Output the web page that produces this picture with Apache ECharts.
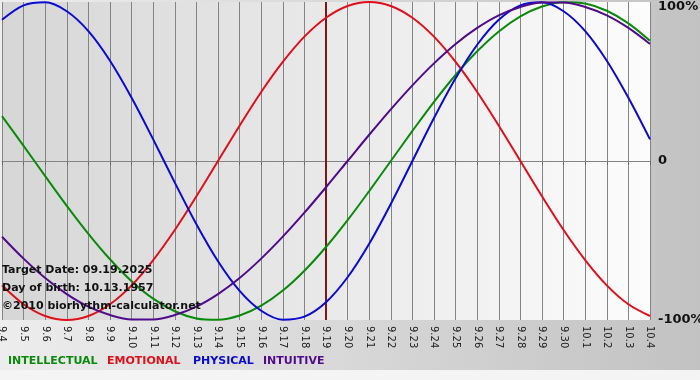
<!DOCTYPE html>
<html>
<head>
<meta charset="utf-8">
<script src="https://cdn.jsdelivr.net/npm/echarts@6/dist/echarts.min.js"></script>
<style>
html,body{margin:0;padding:0;}
#chart{width:700px;height:380px;}
</style>
</head>
<body>
<div id="chart"></div>
<script>
var days = ['9.4','9.5','9.6','9.7','9.8','9.9','9.10','9.11','9.12','9.13','9.14','9.15','9.16','9.17','9.18','9.19','9.20','9.21','9.22','9.23','9.24','9.25','9.26','9.27','9.28','9.29','9.30','10.1','10.2','10.3','10.4'];
var intellectual = [28.2,9.5,-9.5,-28.2,-45.8,-61.8,-75.6,-86.6,-94.5,-99.0,-99.9,-97.2,-91.0,-81.5,-69.0,-54.1,-37.2,-18.9,0,18.9,37.2,54.1,69.0,81.5,91.0,97.2,99.9,99.0,94.5,86.6,75.6];
var emotional = [-78.2,-90.1,-97.5,-100,-97.5,-90.1,-78.2,-62.3,-43.4,-22.2,0,22.2,43.4,62.3,78.2,90.1,97.5,100,97.5,90.1,78.2,62.3,43.4,22.2,0,-22.2,-43.4,-62.3,-78.2,-90.1,-97.5];
var physical = [88.8,97.9,99.8,94.2,81.7,63.1,39.8,13.6,-13.6,-39.8,-63.1,-81.7,-94.2,-99.8,-97.9,-88.8,-73.1,-52.0,-27.0,0,27.0,52.0,73.1,88.8,97.9,99.8,94.2,81.7,63.1,39.8,13.6];
var intuitive = [-47.6,-61.4,-73.6,-83.7,-91.6,-96.9,-99.7,-99.7,-96.9,-91.6,-83.7,-73.6,-61.4,-47.6,-32.5,-16.5,0,16.5,32.5,47.6,61.4,73.6,83.7,91.6,96.9,99.7,99.7,96.9,91.6,83.7,73.6];
var yTicks = [-100, 0, 100];
var targetDay = '9.19';
var infoLines = ['Target Date: 09.19.2025', 'Day of birth: 10.13.1957', '\u00a92010 biorhythm-calculator.net'];
var legendNames = ['INTELLECTUAL', 'EMOTIONAL', 'PHYSICAL', 'INTUITIVE'];

var colors = ['#0a8a0a', '#e0101a', '#0a0ad2', '#500a8c'];
var font = 'Verdana, "DejaVu Sans", sans-serif';

var chart = echarts.init(document.getElementById('chart'), null, {renderer: 'canvas'});

function mkSeries(name, data, color, extra) {
  var s = {
    name: name, type: 'line', data: data, smooth: 0.33, symbol: 'none',
    lineStyle: {color: color, width: 2}, itemStyle: {color: color},
    animation: false, z: 3
  };
  if (extra) for (var k in extra) s[k] = extra[k];
  return s;
}

var legendX = [8, 107, 193, 263];
var graphics = [
  {type: 'rect', left: 0, top: 370, shape: {width: 700, height: 10}, style: {fill: '#f4f4f4'}, z: -1}
];
legendNames.forEach(function (n, i) {
  graphics.push({type: 'text', left: legendX[i], top: 356, z: 10,
    style: {text: n, fill: colors[i], font: 'bold 11px ' + font}});
});
infoLines.forEach(function (t, i) {
  graphics.push({type: 'text', left: 2, top: 265 + i * 18, z: 10,
    style: {text: t, fill: '#111', font: 'bold 11px ' + font}});
});

chart.setOption({
  animation: false,
  backgroundColor: {type: 'linear', x: 0, y: 0, x2: 1, y2: 0,
    colorStops: [{offset: 0, color: '#ededed'}, {offset: 1, color: '#c2c2c2'}]},
  grid: {left: 2, right: 50, top: 2, bottom: 60, show: true, borderWidth: 0,
    outerBoundsMode: 'none', containLabel: false,
    backgroundColor: {type: 'linear', x: 0, y: 0, x2: 1, y2: 0,
      colorStops: [{offset: 0, color: '#d6d6d6'}, {offset: 1, color: '#fcfcfc'}]}},
  xAxis: {
    type: 'category', data: days, boundaryGap: false,
    axisLine: {show: true, lineStyle: {color: '#888', width: 1}},
    axisTick: {show: true, interval: 0, length: 4, lineStyle: {color: '#666'}},
    axisLabel: {interval: 0, rotate: -90, fontSize: 10, color: '#222', margin: 6, fontFamily: font},
    splitLine: {show: true, interval: 0, lineStyle: {color: '#848484', width: 1}}
  },
  yAxis: {
    type: 'value', position: 'right', min: yTicks[0], max: yTicks[2], interval: 100,
    axisLine: {show: false}, axisTick: {show: false},
    splitLine: {show: false},
    axisLabel: {margin: 8, fontSize: 13, fontWeight: 'bold', color: '#111', fontFamily: font,
      formatter: function (v) { return v === yTicks[2] ? '{t|' + v + '%}' : (v === 0 ? '0' : v + '%'); },
      rich: {t: {fontSize: 13, fontWeight: 'bold', color: '#111', fontFamily: font, padding: [9, 0, 0, 0]}}}
  },
  series: [
    mkSeries(legendNames[0], intellectual, colors[0], {
      markLine: {silent: true, symbol: 'none', label: {show: false}, animation: false,
        data: [
          {yAxis: 0, lineStyle: {color: '#848484', width: 1, type: 'solid'}},
          {xAxis: targetDay, lineStyle: {color: '#7a1818', width: 2, type: 'solid'}}
        ], z: 2}
    }),
    mkSeries(legendNames[1], emotional, colors[1]),
    mkSeries(legendNames[2], physical, colors[2]),
    mkSeries(legendNames[3], intuitive, colors[3])
  ],
  graphic: graphics
});
</script>
</body>
</html>
